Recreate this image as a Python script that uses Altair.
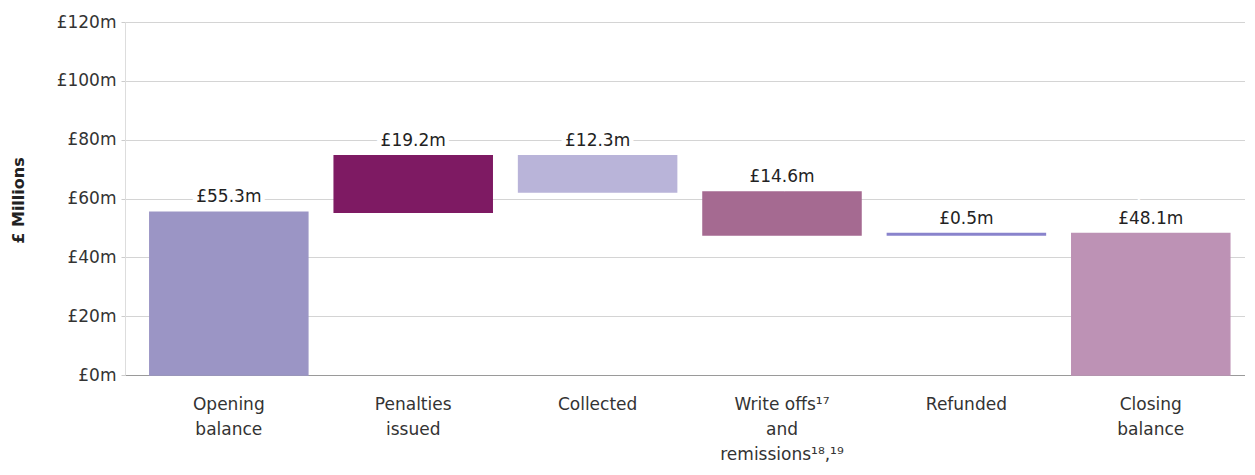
import altair as alt
import pandas as pd

axis_labels = ["Opening|balance", "Penalties|issued", "Collected",
               "Write offs¹⁷|and|remissions¹⁸,¹⁹", "Refunded", "Closing|balance"]
amounts = [55.3, 19.2, -12.3, -14.6, 0.5, 48.1]
is_total = [True, False, False, False, False, True]
value_labels = ["£55.3m", "£19.2m", "£12.3m", "£14.6m", "£0.5m", "£48.1m"]
colors = ["#9b95c5", "#7e1a63", "#b9b4d9", "#a56a91", "#8983cc", "#bd92b5"]

rows = []
running = 0.0
for lab, amt, tot, vl, col in zip(axis_labels, amounts, is_total, value_labels, colors):
    if tot:
        start, end = 0.0, amt
        running = amt
    else:
        start = running
        end = running + amt
        running = end
    rows.append({"cat": lab, "start": start, "end": end,
                 "top": max(start, end), "label": vl, "color": col})
df = pd.DataFrame(rows)

FONT = "DejaVu Sans"
FS = 17

x = alt.X("cat:N", sort=axis_labels, title=None,
          scale=alt.Scale(paddingInner=0.143, paddingOuter=0.1085, align=0.62),
          axis=alt.Axis(labelAngle=0, labelExpr="split(datum.label, '|')",
                        labelFont=FONT, labelFontSize=FS, labelColor="#333333",
                        labelLineHeight=25, labelBaseline="top", labelPadding=21,
                        ticks=False, domain=True, domainColor="#9a9a9a",
                        domainWidth=1))

base = alt.Chart(df)

bars = base.mark_bar(strokeWidth=1.5).encode(
    x=x,
    y=alt.Y("start:Q", title="£ Millions",
            scale=alt.Scale(domain=[0, 120], nice=False),
            axis=alt.Axis(values=[0, 20, 40, 60, 80, 100, 120],
                          labelExpr="'£' + datum.value + 'm'",
                          labelFont=FONT, labelFontSize=FS, labelColor="#333333",
                          labelPadding=5, tickSize=4, tickColor="#cccccc",
                          gridColor="#d4d4d4", gridWidth=1,
                          domainColor="#dddddd",
                          titleFont=FONT, titleFontSize=16, titleFontWeight="bold",
                          titleColor="#222222", titleAngle=270,
                          titleX=-107, titleY=178, titleAlign="center",
                          titleBaseline="middle")),
    y2="end:Q",
    color=alt.Color("color:N", scale=None),
    stroke=alt.Stroke("color:N", scale=None),
)

halo = base.mark_text(font=FONT, fontSize=FS, dy=-15, baseline="middle",
                      color="white", stroke="white", strokeWidth=9).encode(
    x=alt.X("cat:N", sort=axis_labels),
    y="top:Q",
    text="label:N",
)

text = base.mark_text(font=FONT, fontSize=FS, dy=-15, baseline="middle",
                      color="#222222").encode(
    x=alt.X("cat:N", sort=axis_labels),
    y="top:Q",
    text="label:N",
)

chart = (bars + halo + text).properties(
    width=1120, height=353,
    autosize=alt.AutoSizeParams(type="none"),
    padding={"left": 117, "top": 14, "right": 0, "bottom": 95},
).configure_view(stroke=None).configure(background="white")

chart.save("out.html", embed_options={"renderer": "svg", "actions": False})
